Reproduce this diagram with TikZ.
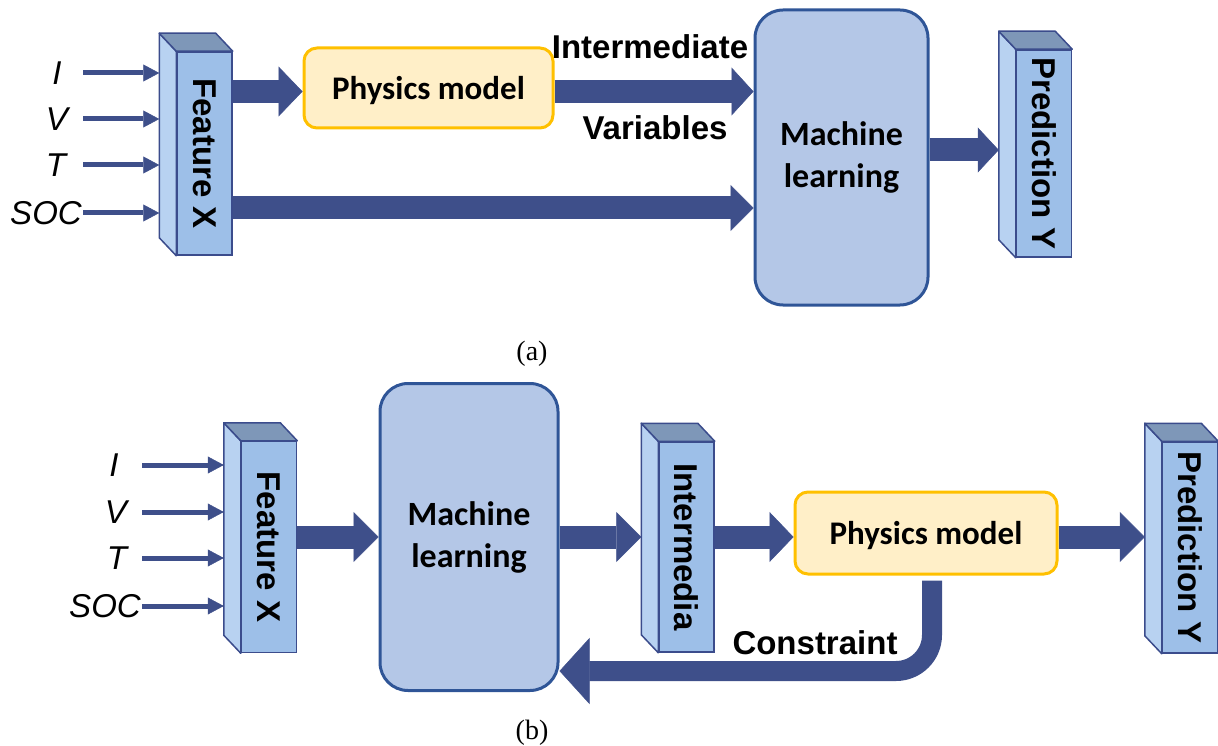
\documentclass[tikz,border=0pt]{standalone}
\usepackage{fontspec}
\newfontfamily\arialf{Liberation Sans}
\newfontfamily\calif{Carlito}
\newfontfamily\serf{Liberation Serif}
\usetikzlibrary{arrows.meta,calc}
\definecolor{arrowblue}{HTML}{3E4F8A}
\definecolor{mlfill}{HTML}{B4C7E7}
\definecolor{mlline}{HTML}{2F5597}
\definecolor{pmfill}{HTML}{FFEFC8}
\definecolor{pmline}{HTML}{FFC000}
\definecolor{pfront}{HTML}{9DBFE8}
\definecolor{pside}{HTML}{B8D2F1}
\definecolor{ptop}{HTML}{7E97B8}
\definecolor{pline}{HTML}{3B4C8C}
\tikzset{
  mlbox/.style={draw=mlline, fill=mlfill, line width=3pt, rounded corners=28pt, align=center,
    font=\calif\bfseries\fontsize{34}{42}\selectfont},
  pmbox/.style={draw=pmline, fill=pmfill, line width=3pt, rounded corners=13pt, text depth=0pt,
    font=\calif\bfseries\fontsize{33}{36}\selectfont},
  pfrontbox/.style={draw=pline, fill=pfront, line width=1.5pt, minimum width=55pt, inner sep=0pt},
  pface/.style={draw=pline, line width=1.5pt, line join=round},
  plabel/.style={rotate=-90, inner sep=0pt, font=\arialf\bfseries\fontsize{33}{36}\selectfont},
  inlabel/.style={inner sep=0pt, font=\arialf\itshape\fontsize{33}{36}\selectfont},
  txtlabel/.style={inner sep=0pt, font=\arialf\bfseries\fontsize{33}{36}\selectfont},
  smallarrow/.style={draw=arrowblue, line width=5pt, -{Triangle[length=16pt,width=17pt,line width=0.5pt]}},
  bigarrow/.style={draw=arrowblue, line width=23pt, -{Triangle[length=24pt,width=50pt,line width=0.5pt]}},
  captxt/.style={inner sep=0pt, font=\serf\fontsize{28}{30}\selectfont},
}
\newcommand{\mkprism}[5]{%
  \node[pfrontbox, minimum height=#4pt] (#1) at (#2,#3) {};
  \path (#1.north west) ++(-17,-18) coordinate (#1-bnw)
        (#1.north east) ++(-17,-18) coordinate (#1-bne)
        (#1.south west) ++(-17,-18) coordinate (#1-bsw);
  \filldraw[pface, fill=pside] (#1.north west) -- (#1-bnw) -- (#1-bsw) -- (#1.south west) -- cycle;
  \filldraw[pface, fill=ptop] (#1.north west) -- (#1-bnw) -- (#1-bne) -- (#1.north east) -- cycle;
  \node[plabel] at (#1) {#5};
}
\begin{document}
\begin{tikzpicture}[x=1pt,y=-1pt]
\useasboundingbox (0,0) rectangle (1218,746);

% ---------------- (a) ----------------
\node[mlbox, minimum width=173pt, minimum height=295pt] (mla) at (841.5,157.5) {Machine\\learning};
\node[pmbox, minimum width=249pt, minimum height=80pt] (pma) at (428.5,88) {Physics model};
\mkprism{fxa}{204.5}{153.5}{203}{Feature X}
\mkprism{pya}{1044}{153.5}{207}{Prediction Y}

\node[inlabel] (ia) at (57,73) {I};
\node[inlabel] (va) at (57,119) {V};
\node[inlabel] (ta) at (56,165) {T};
\node[inlabel] (soca) at (46,213) {SOC};
\coordinate (sxa) at (83,0);
\foreach \n in {ia,va,ta,soca}{
  \draw[smallarrow] (\n -| sxa) -- (\n -| fxa-bnw);
}

\coordinate (ya1) at (0,91.5);
\coordinate (ya2) at (0,208);
\coordinate (ya3) at (0,150);
\draw[bigarrow] (ya1 -| fxa.east) -- (ya1 -| pma.west);
\draw[bigarrow, -{Triangle[length=22pt,width=48pt,line width=0.5pt]}] (ya1 -| pma.east) -- (ya1 -| mla.west);
\draw[bigarrow, -{Triangle[length=23pt,width=46pt,line width=0.5pt]}] (ya2 -| fxa.east) -- (ya2 -| mla.west);
\draw[bigarrow, -{Triangle[length=21pt,width=45pt,line width=0.5pt]}] (ya3 -| mla.east) -- (ya3 -| pya-bnw);

\node[txtlabel] (interm) at (650,47) {Intermediate};
\node[txtlabel] (varia) at (655,128) {Variables};

\node[captxt] (capa) at (532,354) {(a)};

% ---------------- (b) ----------------
\node[mlbox, minimum width=178pt, minimum height=307pt] (mlb) at (469,537) {Machine\\learning};
\node[pmbox, minimum width=262pt, minimum height=82pt] (pmb) at (926,533) {Physics model};
\mkprism{fxb}{269}{547}{211}{Feature X}
\mkprism{intb}{686.5}{547}{210}{Intermedia}
\mkprism{pyb}{1190}{547.5}{211}{Prediction Y}

\node[inlabel] (ib) at (114,465) {I};
\node[inlabel] (vb) at (116,512) {V};
\node[inlabel] (tb) at (117,558) {T};
\node[inlabel] (socb) at (105,606) {SOC};
\coordinate (sxb) at (142,0);
\foreach \n in {ib,vb,tb,socb}{
  \draw[smallarrow] (\n -| sxb) -- (\n -| fxb-bnw);
}

\coordinate (yb) at (0,537);
\draw[bigarrow, -{Triangle[length=25pt,width=50pt,line width=0.5pt]}] (yb -| fxb.east) -- (yb -| mlb.west);
\draw[bigarrow, -{Triangle[length=25pt,width=50pt,line width=0.5pt]}] (yb -| mlb.east) -- (yb -| intb-bnw);
\draw[bigarrow] (yb -| intb.east) -- (yb -| pmb.west);
\draw[bigarrow, -{Triangle[length=25pt,width=50pt,line width=0.5pt]}] (yb -| pmb.east) -- (yb -| pyb-bnw);

\coordinate (cs) at ([yshift=-5pt]pmb.south);
\coordinate (xc) at (932,0);
\coordinate (yc) at (0,671);
\draw[draw=arrowblue, line width=20pt, rounded corners=36pt,
      -{Triangle[length=30pt,width=66pt,line width=0.5pt]}]
  (cs -| xc) |- (yc -| mlb.east);
\node[txtlabel] (cons) at (815,643) {Constraint};

\node[captxt] (capb) at (532,733) {(b)};
\end{tikzpicture}
\end{document}
